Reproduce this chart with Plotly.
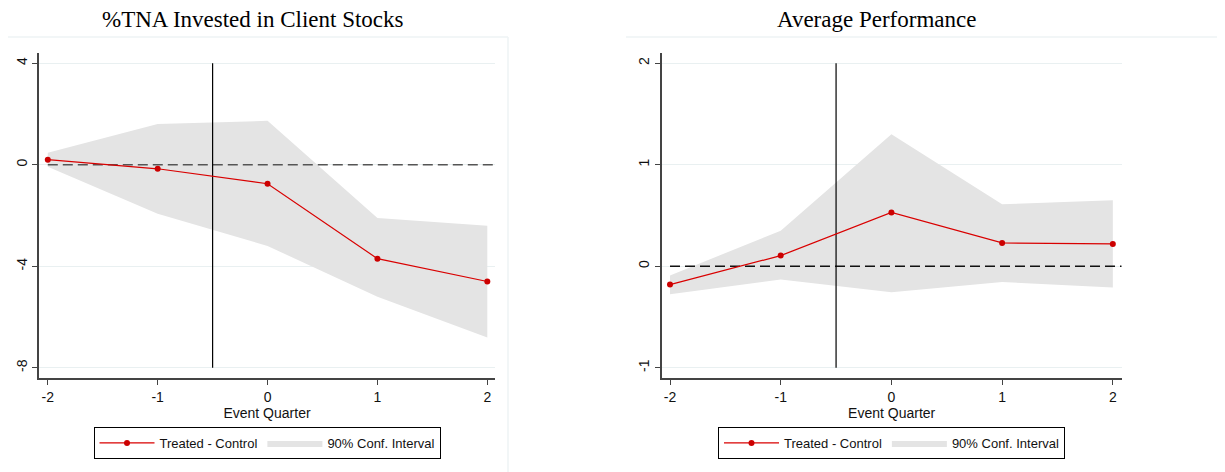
import plotly.graph_objects as go

# event quarters
quarters = [-2, -1, 0, 1, 2]

# %TNA invested in client stocks
tna_diff = [0.2, -0.16, -0.75, -3.7, -4.6]
tna_upper = [0.47, 1.6, 1.73, -2.1, -2.4]
tna_lower = [-0.08, -1.93, -3.2, -5.2, -6.8]
tna_ticks = [-8, -4, 0, 4]

# average performance
perf_diff = [-0.18, 0.105, 0.53, 0.23, 0.22]
perf_upper = [-0.09, 0.35, 1.3, 0.61, 0.65]
perf_lower = [-0.275, -0.13, -0.255, -0.155, -0.21]
perf_ticks = [-1, 0, 1, 2]

event_x = -0.5

RED = "#d90000"
CI_GRAY = "#e4e4e4"
FONT = "Arial, Liberation Sans, sans-serif"
FS = 13

# page body has an 8px margin, so size the figure to fit the window
W, H = 1217, 464
OFF = 8


def px(xp):
    return (xp - OFF) / W


def py(yp):
    return 1 - (yp - OFF) / H


fig = go.Figure()

panels = [
    dict(name="x", yname="y", diff=tna_diff, up=tna_upper, lo=tna_lower,
         xdom=[px(39), px(495)], xr=[-2.08, 2.07], yr=[-8.4, 4.4],
         ticks=tna_ticks, legend="legend", zdash="#555555"),
    dict(name="x2", yname="y2", diff=perf_diff, up=perf_upper, lo=perf_lower,
         xdom=[px(661.7), px(1121.7)], xr=[-2.075, 2.08], yr=[-1.1, 2.1],
         ticks=perf_ticks, legend="legend2", zdash="#111111"),
]

for p in panels:
    # confidence band
    fig.add_trace(go.Scatter(
        x=quarters + quarters[::-1], y=p["up"] + p["lo"][::-1],
        fill="toself", fillcolor=CI_GRAY, line=dict(width=0, color=CI_GRAY),
        mode="lines", name="90% Conf. Interval", legendrank=2,
        xaxis=p["name"], yaxis=p["yname"], legend=p["legend"], hoverinfo="skip"))
    # zero reference
    fig.add_trace(go.Scatter(
        x=[quarters[0], p["xr"][1]], y=[0, 0], mode="lines",
        line=dict(color=p["zdash"], width=1.4, dash="10px,5px"),
        showlegend=False, xaxis=p["name"], yaxis=p["yname"], hoverinfo="skip"))
    # event line, spanning the labelled y range
    fig.add_trace(go.Scatter(
        x=[event_x, event_x], y=[max(p["ticks"]), min(p["ticks"])], mode="lines",
        line=dict(color="black", width=1.2),
        showlegend=False, xaxis=p["name"], yaxis=p["yname"], hoverinfo="skip"))
    # point estimates
    fig.add_trace(go.Scatter(
        x=quarters, y=p["diff"], mode="lines+markers",
        line=dict(color=RED, width=1.2), marker=dict(color="#cc0000", size=6),
        name="Treated - Control", legendrank=1,
        xaxis=p["name"], yaxis=p["yname"], legend=p["legend"]))

axis_common = dict(showline=True, linecolor="#444444", linewidth=1.6,
                   ticks="outside", ticklen=5, tickcolor="#444444", tickwidth=1,
                   zeroline=False, automargin=False,
                   tickfont=dict(family=FONT, size=FS + 1, color="#111"))

xtitle = dict(text="Event Quarter", standoff=0, font=dict(family=FONT, size=FS + 1))
ydom = [py(378), py(53)]
qlabels = [str(q) for q in quarters]

fig.update_layout(
    width=W, height=H,
    margin=dict(l=0, r=0, t=0, b=0),
    paper_bgcolor="white", plot_bgcolor="white",
    font=dict(family=FONT, size=FS, color="#111"),
    xaxis=dict(domain=panels[0]["xdom"], range=panels[0]["xr"], anchor="y",
               tickvals=quarters, ticktext=qlabels, showgrid=False, title=xtitle,
               **axis_common),
    yaxis=dict(domain=ydom, range=panels[0]["yr"], anchor="x",
               tickvals=tna_ticks, ticktext=[str(v) for v in tna_ticks], tickangle=-90,
               showgrid=True, gridcolor="#e9f0f1", gridwidth=1, **axis_common),
    xaxis2=dict(domain=panels[1]["xdom"], range=panels[1]["xr"], anchor="y2",
                tickvals=quarters, ticktext=qlabels, showgrid=False, title=xtitle,
                **axis_common),
    yaxis2=dict(domain=ydom, range=panels[1]["yr"], anchor="x2",
                tickvals=perf_ticks, ticktext=[str(v) for v in perf_ticks], tickangle=-90,
                showgrid=True, gridcolor="#e9f0f1", gridwidth=1, **axis_common),
    legend=dict(orientation="h", x=px(267), xanchor="center", y=py(427), yanchor="top",
                bordercolor="black", borderwidth=1, itemwidth=55,
                font=dict(family=FONT, size=FS, color="#111"), traceorder="normal"),
    legend2=dict(orientation="h", x=px(891.5), xanchor="center", y=py(427), yanchor="top",
                 bordercolor="black", borderwidth=1, itemwidth=55,
                 font=dict(family=FONT, size=FS, color="#111"), traceorder="normal"),
    showlegend=True,
)

# panel titles
for txt, xc in [("%TNA Invested in Client Stocks", 253), ("Average Performance", 876.6)]:
    fig.add_annotation(text=txt, x=px(xc), y=py(20), xref="paper", yref="paper",
                       showarrow=False, xanchor="center", yanchor="middle",
                       font=dict(family="Liberation Serif, Times New Roman, serif", size=23, color="black"))

# faint graph-region borders
frame = "#eef3f5"
fig.add_shape(type="line", xref="paper", yref="paper", x0=0, x1=px(508), y0=py(37), y1=py(37),
              line=dict(color=frame, width=1.5))
fig.add_shape(type="line", xref="paper", yref="paper", x0=px(508), x1=px(508), y0=py(37), y1=0,
              line=dict(color=frame, width=1.5))
fig.add_shape(type="line", xref="paper", yref="paper", x0=px(626), x1=1.0, y0=py(37), y1=py(37),
              line=dict(color=frame, width=1.5))

fig.write_html("out.html")
